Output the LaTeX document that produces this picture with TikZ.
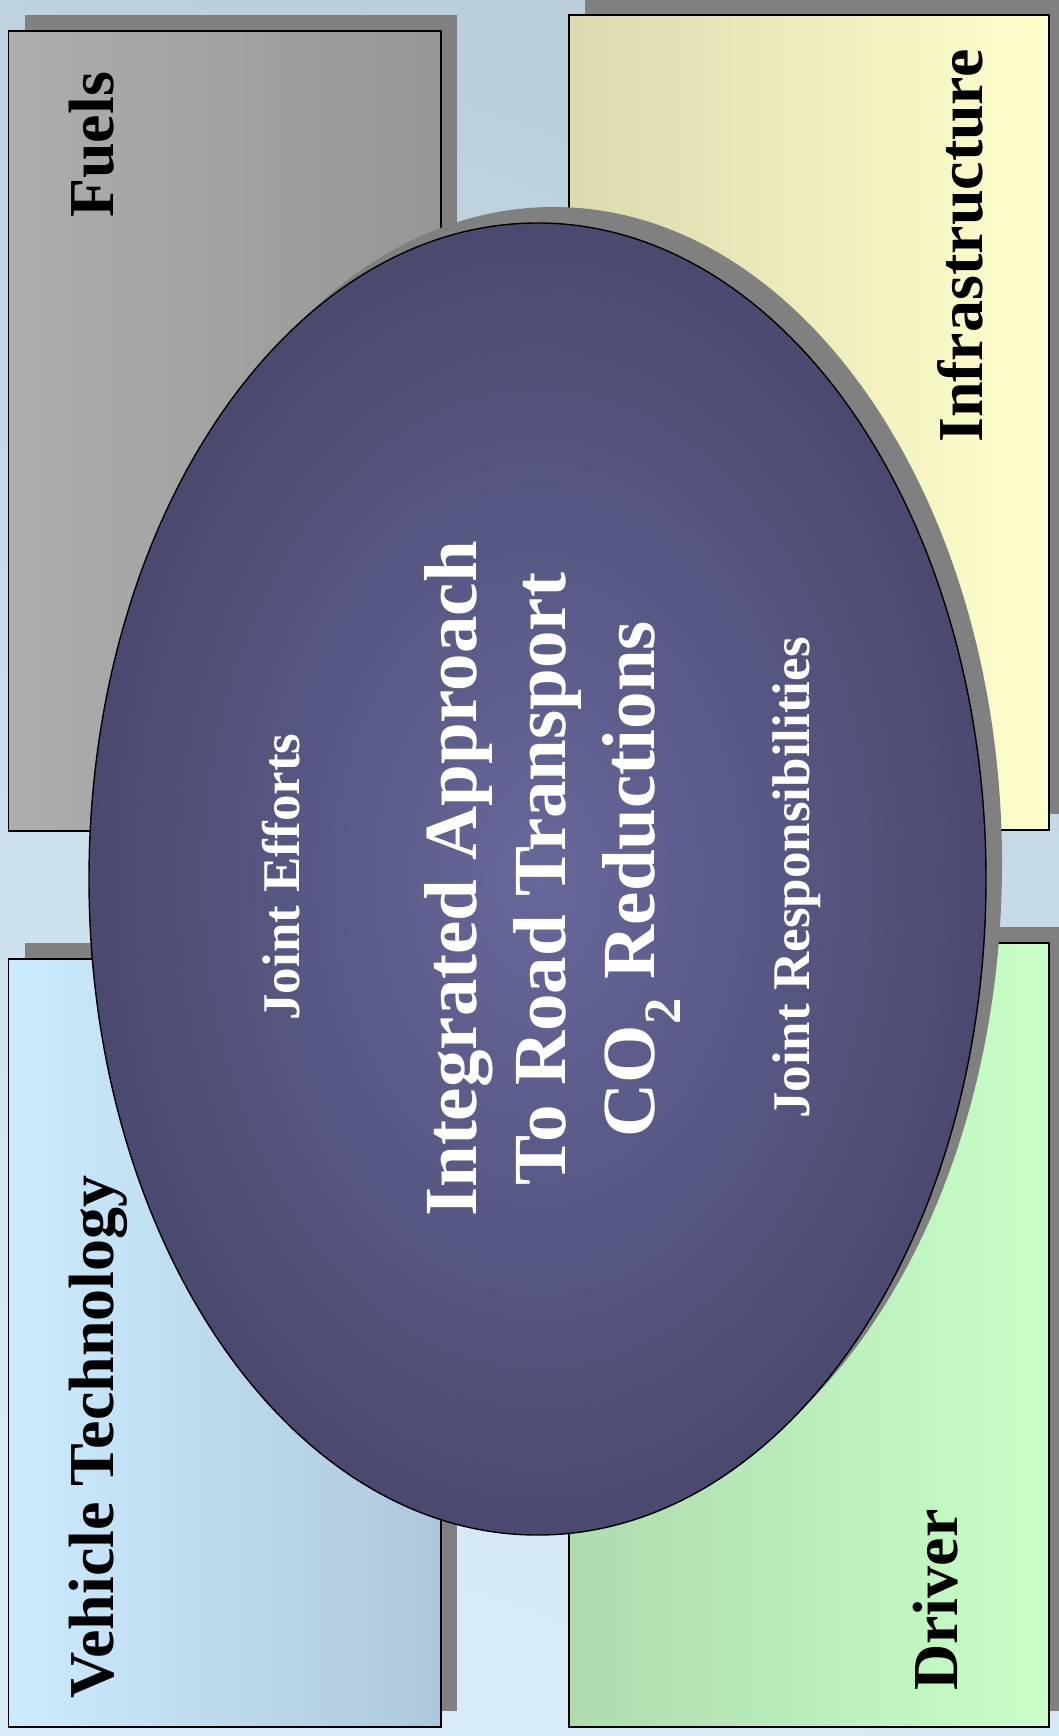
\documentclass[tikz,border=0pt]{standalone}
\usepackage{fontspec}
\setmainfont{Liberation Serif}
\definecolor{bgtop}{HTML}{BBCFDB}
\definecolor{bgbot}{HTML}{D8ECF8}
\definecolor{shadowgray}{HTML}{808080}
\definecolor{fuelL}{HTML}{ADADAD}
\definecolor{fuelR}{HTML}{969696}
\definecolor{infL}{HTML}{DCDAAE}
\definecolor{infR}{HTML}{FFFFCC}
\definecolor{vehL}{HTML}{CCEBFF}
\definecolor{vehR}{HTML}{ADC8DA}
\definecolor{drvL}{HTML}{AEDBAE}
\definecolor{drvR}{HTML}{C7FFC7}
\definecolor{ellIn}{HTML}{67679B}
\definecolor{ellOut}{HTML}{4A4A70}
\begin{document}
\begin{tikzpicture}[x=1pt,y=-1pt,
  shadowfill/.style={fill=shadowgray, draw=none},
  boxframe/.style={draw=black, line width=1.6pt},
  boxlabel/.style={rotate=90, anchor=base west, inner sep=0pt,
    font=\fontsize{64}{70}\selectfont\bfseries, text=black},
  maintext/.style={rotate=90, anchor=base, inner sep=0pt,
    font=\fontsize{75}{90}\selectfont\bfseries, text=white},
  jointtext/.style={rotate=90, anchor=base, inner sep=0pt,
    font=\fontsize{53}{60}\selectfont\bfseries, text=white}]
\useasboundingbox (0,0) rectangle (1059,1736);
% background
\shade[top color=bgtop, bottom color=bgbot, shading angle=-20] (0,0) rectangle (1059,1736);
% box shadows
\fill[shadowfill] (24.5,15) rectangle (457,815);
\fill[shadowfill] (585,-2) rectangle (1065,814);
\fill[shadowfill] (24.5,943) rectangle (457,1711);
\fill[shadowfill] (585,927) rectangle (1065,1711);
% boxes
\shade[left color=fuelL, right color=fuelR] (8.5,31) rectangle (441,831);
\draw[boxframe] (8.5,31) rectangle (441,831);
\shade[left color=infL, right color=infR] (569,15) rectangle (1049,830);
\draw[boxframe] (569,15) rectangle (1049,830);
\shade[left color=vehL, right color=vehR] (8.5,959) rectangle (441,1727);
\draw[boxframe] (8.5,959) rectangle (441,1727);
\shade[left color=drvL, right color=drvR] (569,943) rectangle (1049,1727);
\draw[boxframe] (569,943) rectangle (1049,1727);
% box labels
\node[boxlabel] (fuels) at (113,218) {Fuels};
\node[boxlabel] (infra) at (982,443) {Infrastructure};
\node[boxlabel] (vehicle) at (113,1699) {Vehicle Technology};
\node[boxlabel] (driver) at (957,1691) {Driver};
% ellipse shadow and ellipse
\fill[shadowfill] (553.5,863) ellipse [x radius=448.5, y radius=656];
\shade[inner color=ellIn, outer color=ellOut] (537.5,879) ellipse [x radius=448.5, y radius=656];
\draw[black, line width=1.4pt] (537.5,879) ellipse [x radius=448.5, y radius=656];
% central text
\node[maintext] (line1) at (476,879) {Integrated Approach};
\node[maintext] (line2) at (565,879) {To Road Transport};
\node[maintext] (line3) at (654,879) {CO\textsubscript{2} Reductions};
\node[jointtext] (efforts) at (299,877) {Joint Efforts};
\node[jointtext] (resp) at (809,878) {Joint Responsibilities};
\end{tikzpicture}
\end{document}
